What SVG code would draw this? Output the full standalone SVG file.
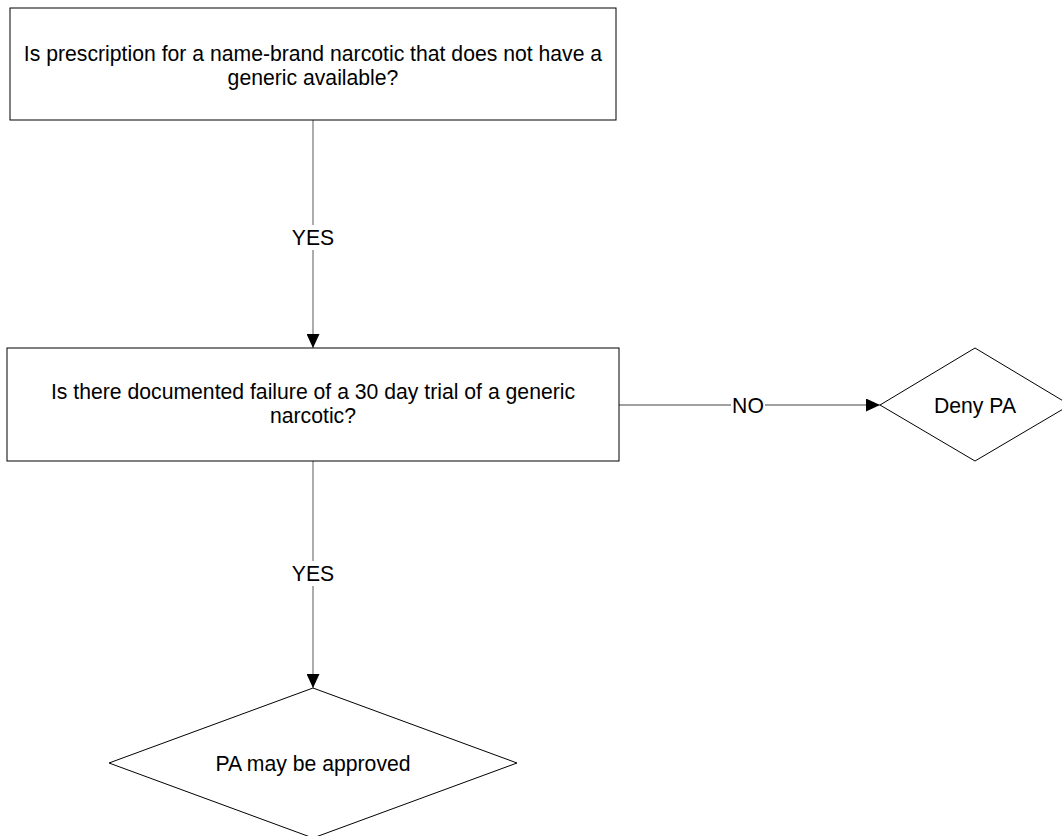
<svg xmlns="http://www.w3.org/2000/svg" width="1062" height="836" viewBox="0 0 1062 836">
<style>
.box{fill:#fff;stroke:#000;stroke-width:1}
.t{font-family:"Liberation Sans",Arial,sans-serif;font-size:21.2px;fill:#000;text-anchor:middle}
.c{fill:none;stroke:#808080;stroke-width:1.3}
.lb{fill:#fff}
</style>
<defs>
<marker id="ah" viewBox="0 0 14 13" refX="14" refY="6.5" markerWidth="14" markerHeight="13" markerUnits="userSpaceOnUse" orient="auto">
<path d="M0,0 L14,6.5 L0,13 z" fill="#000"/>
</marker>
</defs>
<rect width="1062" height="836" fill="#fff"/>
<g id="connectors">
<path class="c" d="M313,120 V348" marker-end="url(#ah)"/>
<path class="c" d="M619,405 H880" marker-end="url(#ah)"/>
<path class="c" d="M313,461 V688" marker-end="url(#ah)"/>
<rect class="lb" x="293" y="225" width="40" height="25"/>
<text class="t" x="313" y="245">YES</text>
<rect class="lb" x="731" y="394" width="34" height="22"/>
<text class="t" x="748" y="413">NO</text>
<rect class="lb" x="293" y="561" width="40" height="25"/>
<text class="t" x="313" y="581">YES</text>
</g>
<g id="q1">
<rect class="box" x="10" y="8" width="606" height="112"/>
<text class="t" x="313" y="61">Is prescription for a name-brand narcotic that does not have a</text>
<text class="t" x="313" y="85">generic available?</text>
</g>
<g id="q2">
<rect class="box" x="7" y="348" width="612" height="113"/>
<text class="t" x="313" y="399">Is there documented failure of a 30 day trial of a generic</text>
<text class="t" x="313" y="423">narcotic?</text>
</g>
<g id="deny">
<polygon class="box" points="975,348 1070,405 975,461 880,405"/>
<text class="t" x="975" y="413">Deny PA</text>
</g>
<g id="approve">
<polygon class="box" points="313,688 517,763 313,838 109,763"/>
<text class="t" x="313" y="771">PA may be approved</text>
</g>
</svg>
